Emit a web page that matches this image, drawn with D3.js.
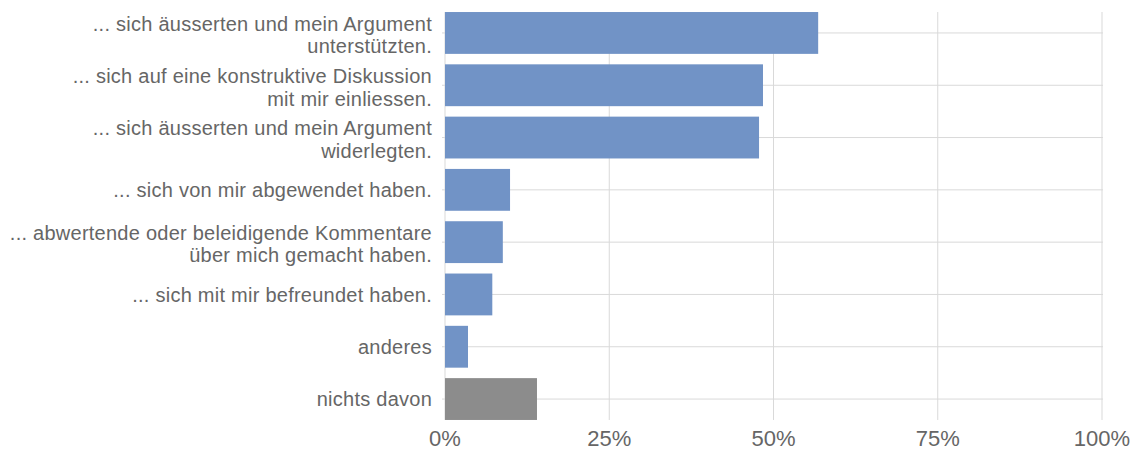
<!DOCTYPE html>
<html>
<head>
<meta charset="utf-8">
<script src="https://cdn.jsdelivr.net/npm/d3@7"></script>
<style>
  body { margin: 0; background: #fff; }
  svg { display: block; font-family: "Liberation Sans", Arial, Helvetica, sans-serif; }
</style>
</head>
<body>
<svg id="chart"></svg>
<script>
const categories = [
  ['... sich äusserten und mein Argument', 'unterstützten.'],
  ['... sich auf eine konstruktive Diskussion', 'mit mir einliessen.'],
  ['... sich äusserten und mein Argument', 'widerlegten.'],
  ['... sich von mir abgewendet haben.'],
  ['... abwertende oder beleidigende Kommentare', 'über mich gemacht haben.'],
  ['... sich mit mir befreundet haben.'],
  ['anderes'],
  ['nichts davon']
];
const values = [56.8, 48.4, 47.8, 9.9, 8.8, 7.2, 3.5, 14.0];
const barColors = ['#7193c6', '#7193c6', '#7193c6', '#7193c6', '#7193c6', '#7193c6', '#7193c6', '#8c8c8c'];
const xTicks = [0, 25, 50, 75, 100];

const width = 1135, height = 450;
const svg = d3.select('#chart').attr('width', width).attr('height', height);

const x = d3.scaleLinear().domain([0, 100]).range([445, 1102]);
const y = d3.scaleBand()
  .domain(d3.range(categories.length))
  .range([6.8, 425.2])
  .paddingInner(0.2)
  .paddingOuter(0.1);

const gridColor = '#d9d9d9';
const plotTop = y(0), plotBottom = y(categories.length - 1) + y.bandwidth();

// horizontal grid lines through the band centres (with small ticks left of the axis)
svg.append('g')
  .selectAll('line')
  .data(d3.range(categories.length))
  .join('line')
    .attr('x1', x(0) - 3)
    .attr('x2', x(100) + 1)
    .attr('y1', i => y(i) + y.bandwidth() / 2)
    .attr('y2', i => y(i) + y.bandwidth() / 2)
    .attr('stroke', gridColor)
    .attr('stroke-width', 1);

// vertical grid lines
svg.append('g')
  .selectAll('line')
  .data(xTicks)
  .join('line')
    .attr('x1', d => x(d))
    .attr('x2', d => x(d))
    .attr('y1', plotTop)
    .attr('y2', plotBottom)
    .attr('stroke', gridColor)
    .attr('stroke-width', 1);

// bars
svg.append('g')
  .selectAll('rect')
  .data(values)
  .join('rect')
    .attr('x', x(0))
    .attr('y', (d, i) => y(i))
    .attr('width', d => x(d) - x(0))
    .attr('height', y.bandwidth())
    .attr('fill', (d, i) => barColors[i]);

// category labels
const labels = svg.append('g')
  .attr('font-size', 20)
  .attr('letter-spacing', 0.25)
  .attr('fill', '#666')
  .attr('text-anchor', 'end');

categories.forEach((lines, i) => {
  const cy = y(i) + y.bandwidth() / 2;
  const t = labels.append('text')
    .attr('x', 432)
    .attr('y', cy);
  const lh = 22.6;
  const off = lines.length === 1 ? 7.3 : 9;
  lines.forEach((line, j) => {
    t.append('tspan')
      .attr('x', 432)
      .attr('y', cy + (j - (lines.length - 1) / 2) * lh + off)
      .text(line);
  });
});

// x tick labels
svg.append('g')
  .attr('font-size', 22)
  .attr('fill', '#666')
  .attr('text-anchor', 'middle')
  .selectAll('text')
  .data(xTicks)
  .join('text')
    .attr('x', d => x(d))
    .attr('y', 446)
    .text(d => d + '%');
</script>
</body>
</html>
